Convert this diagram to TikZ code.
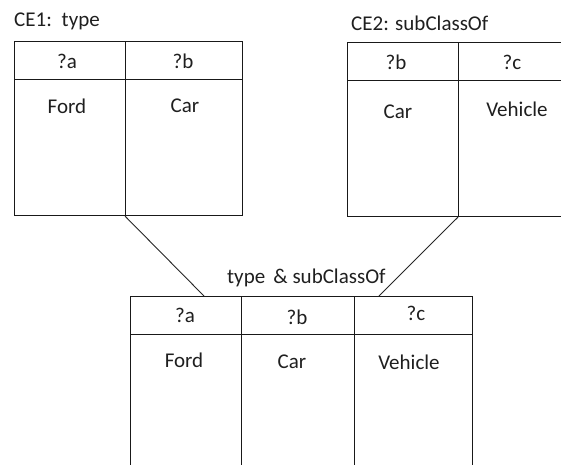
\documentclass[tikz,border=0pt]{standalone}
\usepackage{fontspec}
\setmainfont{Carlito}
\begin{document}
\begin{tikzpicture}[x=1pt,y=-1pt,
  cell/.style={draw=black!90,line width=1.1pt,rectangle,anchor=north west,inner sep=0pt},
  txt/.style={inner sep=0pt,font=\fontsize{21}{25}\selectfont,text=black!88},
  ttl/.style={txt,anchor=base west},
  conn/.style={draw=black!85,line width=0.9pt}]
\useasboundingbox (0,0) rectangle (561,464);
\clip (0,0) rectangle (561,464);
% Table CE1
\node[ttl] (ttl1) at (14,26) {CE1:\, type};
\node[cell,minimum width=111pt,minimum height=38pt] (t1ha) at (14,41) {};
\node[cell,minimum width=117pt,minimum height=38pt] (t1hb) at (125,41) {};
\node[cell,minimum width=111pt,minimum height=136pt] (t1ba) at (14,79) {};
\node[cell,minimum width=117pt,minimum height=136pt] (t1bb) at (125,79) {};
\node[txt] (t1xa) at (67,61) {?a};
\node[txt] (t1xb) at (183,61) {?b};
\node[txt] (t1ya) at (67,106) {Ford};
\node[txt] (t1yb) at (185,106) {Car};
% Table CE2
\node[ttl] (ttl2) at (351,30) {CE2: subClassOf};
\node[cell,minimum width=111pt,minimum height=38pt] (t2hb) at (347,42) {};
\node[cell,minimum width=150pt,minimum height=38pt] (t2hc) at (458,42) {};
\node[cell,minimum width=111pt,minimum height=136pt] (t2bb) at (347,80) {};
\node[cell,minimum width=150pt,minimum height=136pt] (t2bc) at (458,80) {};
\node[txt] (t2xb) at (396,62) {?b};
\node[txt] (t2xc) at (512,62) {?c};
\node[txt] (t2yb) at (398,112) {Car};
\node[txt] (t2yc) at (517,109) {Vehicle};
% Table joined
\node[ttl] (ttl3) at (227,283) {type\, \& subClassOf};
\node[cell,minimum width=111pt,minimum height=38pt] (t3ha) at (130,296) {};
\node[cell,minimum width=113pt,minimum height=38pt] (t3hb) at (241,296) {};
\node[cell,minimum width=118pt,minimum height=38pt] (t3hc) at (354,296) {};
\node[cell,minimum width=111pt,minimum height=200pt] (t3ba) at (130,334) {};
\node[cell,minimum width=113pt,minimum height=200pt] (t3bb) at (241,334) {};
\node[cell,minimum width=118pt,minimum height=200pt] (t3bc) at (354,334) {};
\node[txt] (t3xa) at (185,315) {?a};
\node[txt] (t3xb) at (297,317) {?b};
\node[txt] (t3xc) at (416,313) {?c};
\node[txt] (t3ya) at (184,360) {Ford};
\node[txt] (t3yb) at (292,362) {Car};
\node[txt] (t3yc) at (409,362) {Vehicle};
% connectors
\coordinate (j1) at (204,296);
\coordinate (j2) at (379,296);
\draw[conn] (t1bb.south west) -- (j1);
\draw[conn] (t2bc.south west) -- (j2);
\end{tikzpicture}
\end{document}
